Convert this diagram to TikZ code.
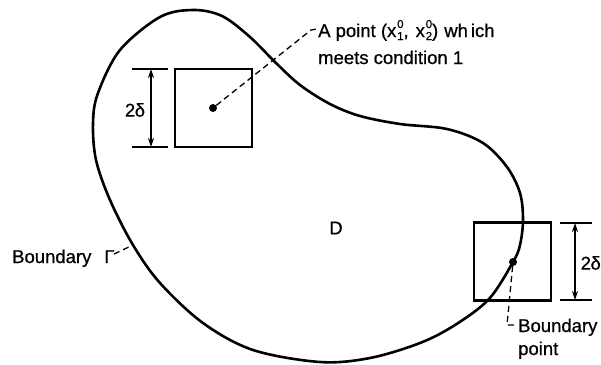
\documentclass[tikz,border=0pt]{standalone}
\usepackage{fontspec}
\setmainfont{Liberation Sans}[FakeBold=0.7]
\usetikzlibrary{arrows.meta}
\newcommand{\xsupsub}[2]{x\kern0.8pt\rlap{\raisebox{9pt}{\fontsize{11.5}{11.5}\selectfont #1}}\raisebox{-3pt}{\fontsize{11.5}{11.5}\selectfont #2}}
\begin{document}
\begin{tikzpicture}[x=1pt,y=-1pt,
  bnd/.style={line width=2.6pt},
  sq/.style={draw, line width=2.4pt, minimum width=77pt, minimum height=78pt, inner sep=0pt},
  dimline/.style={line width=1.4pt},
  dimarrow/.style={line width=1.4pt, {Stealth[length=9pt,width=6pt]}-{Stealth[length=9pt,width=6pt]}},
  leader/.style={line width=1.3pt, dash pattern=on 6pt off 4pt},
  lbl/.style={font=\fontsize{18.5}{27}\selectfont, inner sep=0pt},
  dotmark/.style={circle, fill, inner sep=0pt, minimum size=8pt}]
\useasboundingbox (0,0) rectangle (601,364);
% boundary curve
\draw[bnd] plot[smooth cycle, tension=0.55] coordinates {
 (193,10) (222,16) (250,37) (275,62) (300,85) (330,104) (360,116) (400,124)
 (447,129) (483,143) (507,167) (520,193) (523,220) (520,245) (513,262)
 (489,299) (455,325) (420,343) (370,358) (320,362) (253,350) (203,323)
 (160,283) (133,245) (110,200) (96,160) (93,123) (98,93) (120,50) (160,17)};
% squares
\node[sq] (s1) at (213.5,108) {};
\node[sq] (s2) at (512.5,261.5) {};
\node[dotmark] (d1) at (213,108) {};
\node[dotmark] (d2) at (513,262) {};
% left dimension
\coordinate (l1a) at (132,69); \coordinate (l1b) at (168,69);
\coordinate (l2a) at (132,147); \coordinate (l2b) at (168,147);
\coordinate (la) at (151,69); \coordinate (lb) at (151,147);
\draw[dimline] (l1a) -- (l1b);
\draw[dimline] (l2a) -- (l2b);
\draw[dimarrow] (la) -- (lb);
\node[lbl] (ld) at (135,110) {2\kern-0.5ptδ};
% right dimension
\coordinate (r1a) at (560,223); \coordinate (r1b) at (592,223);
\coordinate (r2a) at (560,300); \coordinate (r2b) at (592,300);
\coordinate (ra) at (575,223); \coordinate (rb) at (575,300);
\draw[dimline] (r1a) -- (r1b);
\draw[dimline] (r2a) -- (r2b);
\draw[dimarrow] (ra) -- (rb);
\node[lbl, anchor=west] (rd) at (580.5,263) {2\kern-0.5ptδ};
% labels
\node[lbl, anchor=base west] (t1) at (318,37) {A point (\xsupsub{0}{1},\kern7pt\xsupsub{0}{2})\kern6pt wh\kern3ptich};
\node[lbl, anchor=base west] (t2) at (318,64) {meets condition 1};
\node[lbl] (D) at (336,228) {D};
\node[lbl, anchor=base west] (bg) at (12,263) {Boundary\hspace{13pt}Γ};
\node[lbl, anchor=base west] (bp1) at (518,332) {Boundary};
\node[lbl, anchor=base west] (bp2) at (518,355) {point};
% leaders
\coordinate (k1) at (311,30);
\coordinate (k1e) at (317,29);
\draw[leader] (d1) -- (k1) -- (k1e);
\coordinate (g1) at (114,254);
\coordinate (g2) at (131,246);
\draw[leader] (g1) -- (g2);
\coordinate (k2) at (507,325);
\coordinate (k2e) at (514,325);
\draw[leader] (d2) -- (k2) -- (k2e);
\end{tikzpicture}
\end{document}
